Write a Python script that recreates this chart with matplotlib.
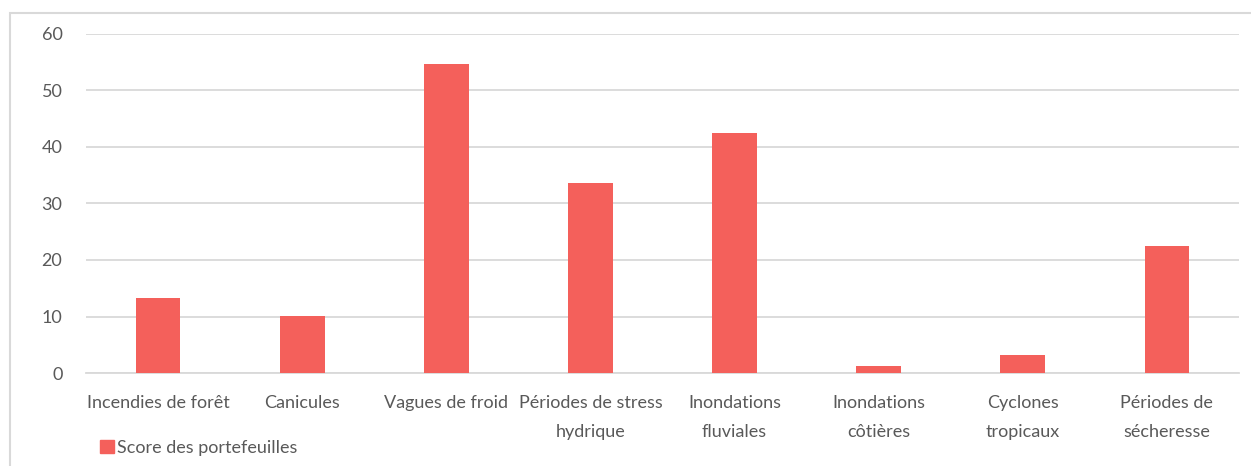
import matplotlib.pyplot as plt
from matplotlib.patches import Rectangle, Patch

# data
categories = ["Incendies de forêt", "Canicules", "Vagues de froid",
              "Périodes de stress\nhydrique", "Inondations\nfluviales",
              "Inondations\ncôtières", "Cyclones\ntropicaux",
              "Périodes de\nsécheresse"]
scores = [13.3, 10.1, 54.7, 33.6, 42.5, 1.2, 3.1, 22.5]
series_name = "Score des portefeuilles"

plt.rcParams['font.family'] = ['Lato', 'DejaVu Sans']
bar_color = "#F4605B"
text_color = "#595959"
grid_color = "#D9D9D9"

W, H = 1251, 466
fig = plt.figure(figsize=(W / 100, H / 100), dpi=100)

# light border around the chart area
fig.patches.append(Rectangle((10 / W, -0.1), 1.2, (H - 13) / H + 0.1,
                             transform=fig.transFigure, fill=False,
                             edgecolor=grid_color, linewidth=1.5))

ax = fig.add_axes([86 / W, 93 / H, (1239 - 86) / W, (373 - 34) / H])
x = range(len(categories))
ax.bar(x, scores, width=0.31, color=bar_color, zorder=3)

ax.set_xlim(-0.5, len(categories) - 0.5)
ax.set_ylim(0, 60)
ax.set_yticks(range(0, 61, 10))
ax.set_xticks(list(x))
ax.set_xticklabels(categories, linespacing=2.05)
ax.yaxis.grid(True, color=grid_color, linewidth=1.3, zorder=0)
for s in ["top", "right", "left"]:
    ax.spines[s].set_visible(False)
ax.spines["bottom"].set_color(grid_color)
ax.spines["bottom"].set_linewidth(1.3)
ax.tick_params(axis="both", length=0, colors=text_color, labelsize=13)
ax.tick_params(axis="x", pad=15.5)
ax.tick_params(axis="y", pad=17)

leg = fig.legend(handles=[Patch(color=bar_color, label=series_name)],
                 loc="center left", bbox_to_anchor=(84 / W, 1 - 448 / H),
                 frameon=False, fontsize=13, handlelength=0.75,
                 handleheight=0.75, handletextpad=0.2)
for t in leg.get_texts():
    t.set_color(text_color)

fig.savefig("out.png", dpi=100)
